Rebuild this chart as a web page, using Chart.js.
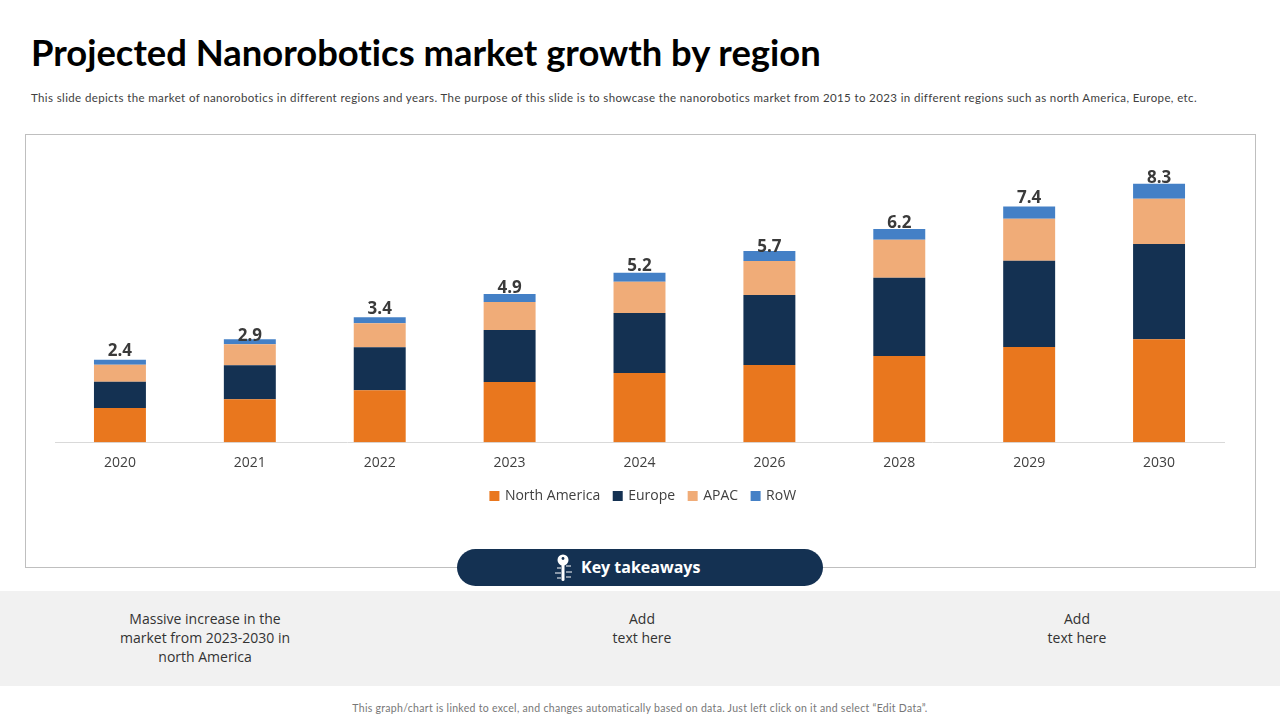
<!DOCTYPE html>
<html>
<head>
<meta charset="utf-8">
<script src="https://cdn.jsdelivr.net/npm/chart.js@4/dist/chart.umd.min.js"></script>
<style>
  html, body { margin: 0; padding: 0; background: #fff; }
  body { width: 1280px; height: 720px; position: relative; overflow: hidden; font-family: Lato, sans-serif; font-variant-ligatures: none; }
  .txt { position: absolute; white-space: nowrap; }
  #title { left: 31px; top: 30px; font-size: 36.4px; font-weight: 700; color: #000; }
  #desc { left: 31px; top: 91px; font-size: 11.5px; letter-spacing: 0.38px; color: #404040; }
  #box { position: absolute; left: 25px; top: 134px; width: 1229px; height: 432px; border: 1px solid #bfbfbf; }
  #chartWrap { position: absolute; left: 25px; top: 134px; width: 1231px; height: 434px; }
  #band { position: absolute; left: 0; top: 591px; width: 1280px; height: 95px; background: #f1f1f1; }
  #pill { position: absolute; left: 457px; top: 549px; width: 366px; height: 37px; border-radius: 19px; background: #143152; }
  #pillText { left: 581px; top: 556px; font-size: 16px; font-weight: 700; color: #fff; font-family: "Open Sans", sans-serif; }
  #keyIcon { position: absolute; left: 552px; top: 553px; }
  .note { position: absolute; top: 609px; font: 14px/19px "Open Sans", sans-serif; color: #333; text-align: center; transform: translateX(-50%); white-space: nowrap; }
  #foot { left: 0; width: 1280px; text-align: center; top: 702px; font-size: 10.5px; letter-spacing: 0.3px; color: #777; }
</style>
</head>
<body>
<div class="txt" id="title">Projected Nanorobotics market growth by region</div>
<div class="txt" id="desc">This slide depicts the market of nanorobotics in different regions and years. The purpose of this slide is to showcase the nanorobotics market from 2015 to 2023 in different regions such as north America, Europe, etc.</div>
<div id="box"></div>
<div id="chartWrap"><canvas id="chart"></canvas></div>
<div id="band"></div>
<div id="pill"></div>
<svg id="keyIcon" width="24" height="30" viewBox="0 0 24 30">
  <circle cx="11" cy="7" r="5.5" fill="#fff"/>
  <circle cx="11" cy="5.5" r="1.4" fill="#143152"/>
  <rect x="9.5" y="11" width="3" height="17" rx="1.5" fill="#fff"/>
  <path d="M5 15h4M3 20h6M5 25h4M14 13h5M14 19h6M14 24h5" stroke="#fff" stroke-width="1" fill="none"/>
</svg>
<div class="txt" id="pillText">Key takeaways</div>
<div class="note" style="left:205px">Massive increase in the<br>market from 2023-2030 in<br>north America</div>
<div class="note" style="left:642px">Add<br>text here</div>
<div class="note" style="left:1077px">Add<br>text here</div>
<div class="txt" id="foot">This graph/chart is linked to excel, and changes automatically based on data. Just left click on it and select “Edit Data”.</div>

<script>
const categories = ['2020', '2021', '2022', '2023', '2024', '2026', '2028', '2029', '2030'];
const northAmerica = [1.1, 1.38, 1.67, 1.93, 2.22, 2.48, 2.77, 3.06, 3.31];
const europe = [0.84, 1.09, 1.38, 1.67, 1.93, 2.25, 2.51, 2.77, 3.06];
const apac = [0.55, 0.68, 0.77, 0.9, 1.0, 1.09, 1.22, 1.35, 1.45];
const row = [0.16, 0.16, 0.19, 0.26, 0.29, 0.32, 0.35, 0.39, 0.48];
const totals = ['2.4', '2.9', '3.4', '4.9', '5.2', '5.7', '6.2', '7.4', '8.3'];

// the total labels sit by hand above each stack on the slide
const labelLift = [9, 3, 8, 6, 7, 4, 6, 8, 6];

const totalLabels = {
  id: 'totalLabels',
  afterLayout(chart) {
    // legend is a little right of centre on the slide
    chart.legend.left += 4;
    chart.legend.right += 4;
  },
  afterDatasetsDraw(chart) {
    const ctx = chart.ctx;
    const topBars = chart.getDatasetMeta(3).data;
    ctx.save();
    ctx.font = '700 17px "Open Sans", sans-serif';
    ctx.fillStyle = '#3a3a3a';
    ctx.textAlign = 'center';
    ctx.textBaseline = 'middle';
    topBars.forEach((bar, i) => {
      ctx.fillText(totals[i], bar.x, bar.y - labelLift[i]);
    });
    ctx.restore();
  }
};

new Chart(document.getElementById('chart'), {
  type: 'bar',
  data: {
    labels: categories,
    datasets: [
      { label: 'North America', data: northAmerica, backgroundColor: '#E9771E' },
      { label: 'Europe', data: europe, backgroundColor: '#143152' },
      { label: 'APAC', data: apac, backgroundColor: '#F0AC78' },
      { label: 'RoW', data: row, backgroundColor: '#4480C6' }
    ]
  },
  options: {
    responsive: true,
    maintainAspectRatio: false,
    animation: false,
    layout: { padding: { left: 30, right: 32, top: 28, bottom: 55 } },
    datasets: { bar: { categoryPercentage: 0.4, barPercentage: 1 } },
    scales: {
      x: {
        stacked: true,
        grid: { display: false, drawTicks: false },
        border: { color: '#d9d9d9' },
        ticks: { color: '#404040', font: { family: '"Open Sans", sans-serif', size: 14 }, padding: 12 },
        // pulls the legend up closer to the year labels
        afterFit(scale) { scale.height -= 8; }
      },
      y: { stacked: true, display: false, min: 0, max: 9 }
    },
    plugins: {
      tooltip: { enabled: false },
      legend: {
        position: 'bottom',
        labels: {
          usePointStyle: true,
          pointStyle: 'rect',
          boxWidth: 7,
          boxHeight: 10,
          padding: 14,
          color: '#404040',
          font: { family: '"Open Sans", sans-serif', size: 14 }
        }
      }
    }
  },
  plugins: [totalLabels]
});
</script>
</body>
</html>
